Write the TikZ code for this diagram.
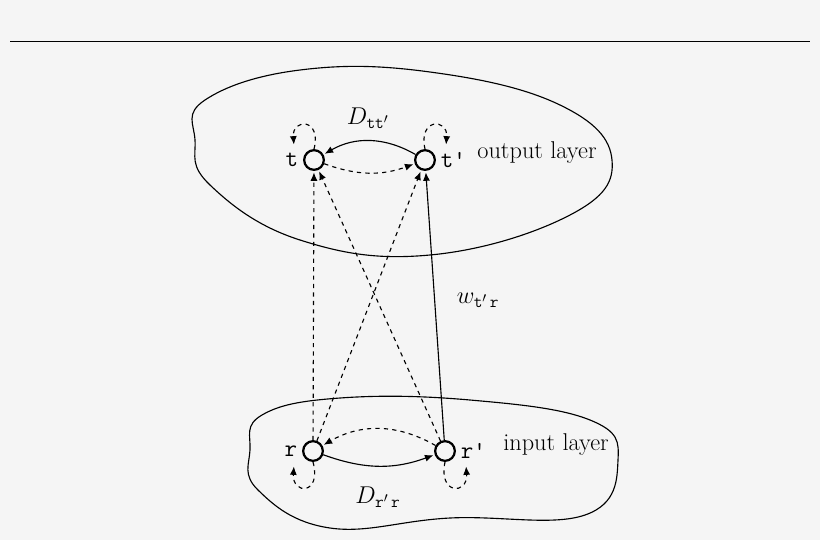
\documentclass[tikz,border=0pt]{standalone}
\usepackage{amsmath}
\usepackage{tikz}
\usetikzlibrary{positioning,arrows.meta}

\begin{document}
\begin{tikzpicture}[x=0.025cm,y=-0.025cm,
    unit/.style={draw, circle, line width=1.6pt, minimum size=14pt, inner sep=0pt},
    tag/.style={font=\LARGE\ttfamily},
    link/.style={-{Latex[length=6pt,width=5pt]}, shorten >=1pt}]

    \useasboundingbox[fill=white!96!black] (0,0) rectangle (820,540);
    \draw (10,41) -- (810,41);

    % layers
    \draw[thick] plot[smooth cycle, tension=0.7] coordinates {(205,100) (300,70) (430,72) (560,105) (612,160) (570,215) (430,255) (300,240) (210,185) (195,140)};
    \draw[thick] plot[smooth cycle, tension=0.7] coordinates {(262,415) (340,398) (470,400) (590,420) (618,460) (585,515) (450,518) (330,528) (258,490) (250,450)};

    % units
    \node[unit] (t) at (314,160) {};
    \node[unit] (tp) at (425,160) {};
    \node[unit] (r) at (313,451) {};
    \node[unit] (rp) at (445,451) {};
    \node[tag, left=0pt of t] {t};
    \node[tag, right=0pt of tp] {t'};
    \node[tag, left=0pt of r] {r};
    \node[tag, right=0pt of rp] {r'};

    \node[font=\LARGE] (outl) at (537,153) {output layer};
    \node[font=\LARGE] (inl) at (556,445) {input layer};

    % lateral connections
    \draw[link, thick] (tp) to[bend right=30] (t);
    \draw[link, thick, dashed] (t) to[bend right=20] (tp);
    \draw[link, thick] (r) to[bend right=20] (rp);
    \draw[link, thick, dashed] (rp) to[bend right=30] (r);
    \node (Dtt) at (368,118) {\LARGE $D_{\texttt{tt}'}$};
    \node (Drr) at (378,497) {\LARGE $D_{\texttt{r}'\,\texttt{r}}$};

    % self connections
    \draw[link, thick, dashed] (t.north) .. controls (322,118) and (292,118) .. (294,146);
    \draw[link, thick, dashed] (tp.north) .. controls (418,118) and (448,118) .. (446,146);
    \draw[link, thick, dashed] (r.south) .. controls (322,495) and (292,495) .. (294,465);
    \draw[link, thick, dashed] (rp.south) .. controls (438,495) and (468,495) .. (466,465);

    % feed-forward connections
    \draw[link, thick, dashed] (r) -- (t);
    \draw[link, thick, dashed] (r) -- (tp);
    \draw[link, thick, dashed] (rp) -- (t);
    \draw[link, thick] (rp) -- (tp);
    \node (w) at (478,300) {\LARGE $w_{\texttt{t}'\,\texttt{r}}$};

\end{tikzpicture}
\end{document}
